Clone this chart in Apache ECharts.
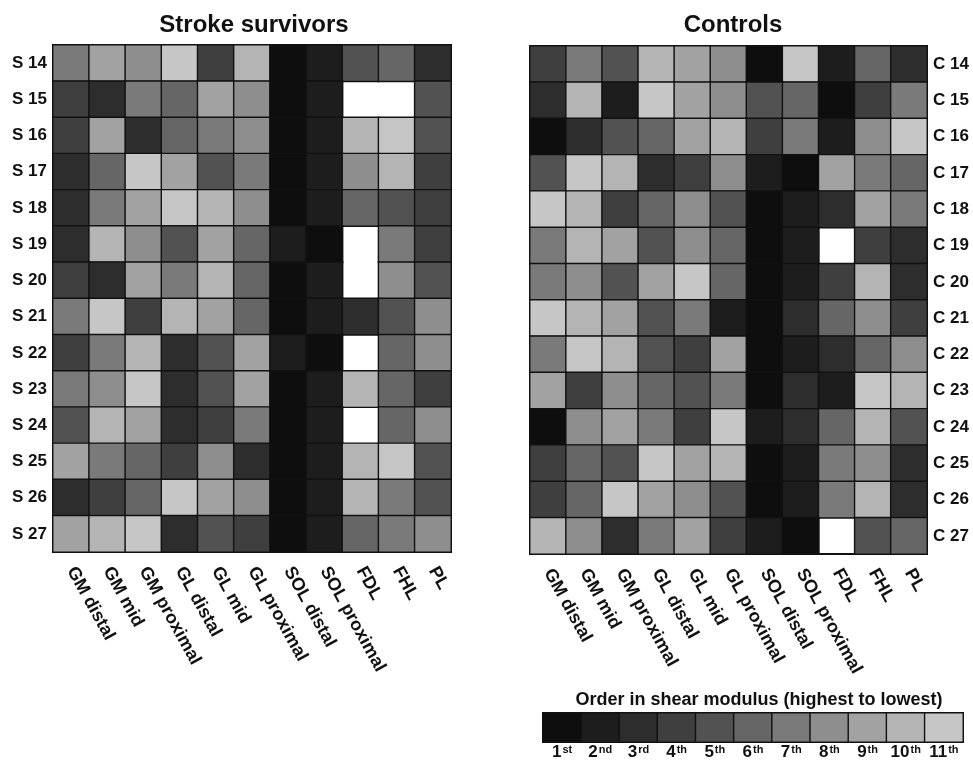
<!DOCTYPE html>
<html>
<head>
<meta charset="utf-8">
<script src="https://cdn.jsdelivr.net/npm/echarts@6/dist/echarts.min.js"></script>
<style>
html,body{margin:0;padding:0;background:#fff;}
#chart{width:973px;height:761px;}
</style>
</head>
<body>
<div id="chart"></div>
<script>
// ---- data ----
const muscles = ['GM distal','GM mid','GM proximal','GL distal','GL mid','GL proximal','SOL distal','SOL proximal','FDL','FHL','PL'];
const strokeIds = ['S 14','S 15','S 16','S 17','S 18','S 19','S 20','S 21','S 22','S 23','S 24','S 25','S 26','S 27'];
const controlIds = ['C 14','C 15','C 16','C 17','C 18','C 19','C 20','C 21','C 22','C 23','C 24','C 25','C 26','C 27'];
// rank of each muscle (1 = highest shear modulus); null = not measured (white)
const strokeRanks = [
  [7, 9, 8, 11, 4, 10, 1, 2, 5, 6, 3],
  [4, 3, 7, 6, 9, 8, 1, 2, null, null, 5],
  [4, 9, 3, 6, 7, 8, 1, 2, 10, 11, 5],
  [3, 6, 11, 9, 5, 7, 1, 2, 8, 10, 4],
  [3, 7, 9, 11, 10, 8, 1, 2, 6, 5, 4],
  [3, 10, 8, 5, 9, 6, 2, 1, null, 7, 4],
  [4, 3, 9, 7, 10, 6, 1, 2, null, 8, 5],
  [7, 11, 4, 10, 9, 6, 1, 2, 3, 5, 8],
  [4, 7, 10, 3, 5, 9, 2, 1, null, 6, 8],
  [7, 8, 11, 3, 5, 9, 1, 2, 10, 6, 4],
  [5, 10, 9, 3, 4, 7, 1, 2, null, 6, 8],
  [9, 7, 6, 4, 8, 3, 1, 2, 10, 11, 5],
  [3, 4, 6, 11, 9, 8, 1, 2, 10, 7, 5],
  [9, 10, 11, 3, 5, 4, 1, 2, 6, 7, 8]
];
const controlRanks = [
  [4, 7, 5, 10, 9, 8, 1, 11, 2, 6, 3],
  [3, 10, 2, 11, 9, 8, 5, 6, 1, 4, 7],
  [1, 3, 5, 6, 9, 10, 4, 7, 2, 8, 11],
  [5, 11, 10, 3, 4, 8, 2, 1, 9, 7, 6],
  [11, 10, 4, 6, 8, 5, 1, 2, 3, 9, 7],
  [7, 10, 9, 5, 8, 6, 1, 2, null, 4, 3],
  [7, 8, 5, 9, 11, 6, 1, 2, 4, 10, 3],
  [11, 10, 9, 5, 7, 2, 1, 3, 6, 8, 4],
  [7, 11, 10, 5, 4, 9, 1, 2, 3, 6, 8],
  [9, 4, 8, 6, 5, 7, 1, 3, 2, 11, 10],
  [1, 8, 9, 7, 4, 11, 2, 3, 6, 10, 5],
  [4, 6, 5, 11, 9, 10, 1, 2, 7, 8, 3],
  [4, 6, 11, 9, 8, 5, 1, 2, 7, 10, 3],
  [10, 8, 3, 7, 9, 4, 2, 1, null, 5, 6]
];
const rankValues = [1,2,3,4,5,6,7,8,9,10,11];
const rankNums = ['1','2','3','4','5','6','7','8','9','10','11'];
const rankSuffixes = ['st','nd','rd','th','th','th','th','th','th','th','th'];
const rankGrays = ['#0e0e0e','#1d1d1d','#2d2d2d','#3f3f3f','#525252','#666666','#7a7a7a','#8e8e8e','#a2a2a2','#b4b4b4','#c6c6c6'];

// ---- build ----
function toCells(ranks){
  const out = [];
  ranks.forEach((row, r) => row.forEach((v, c) => out.push([c, r, v == null ? '-' : v])));
  return out;
}
const FONT = 'Liberation Sans';
const dark = '#111';
const cellStyle = {borderColor: dark, borderWidth: 1.4};

const chart = echarts.init(document.getElementById('chart'), null, {renderer: 'canvas'});
chart.setOption({
  backgroundColor: '#fff',
  animation: false,
  textStyle: {fontFamily: FONT},
  title: [
    {text: 'Stroke survivors', left: 249, top: 8, textAlign: 'center',
     textStyle: {fontFamily: FONT, fontSize: 24, fontWeight: 'bold', color: dark}},
    {text: 'Controls', left: 728, top: 8, textAlign: 'center',
     textStyle: {fontFamily: FONT, fontSize: 24, fontWeight: 'bold', color: dark}},
    {text: 'Order in shear modulus (highest to lowest)', left: 754, top: 686, textAlign: 'center',
     textStyle: {fontFamily: FONT, fontSize: 18, fontWeight: 'bold', color: dark}}
  ],
  grid: [
    {left: 53, top: 45, width: 398, height: 507, show: true, backgroundColor: '#fff', borderColor: dark, borderWidth: 2},
    {left: 530, top: 46, width: 397, height: 508, show: true, backgroundColor: '#fff', borderColor: dark, borderWidth: 2},
    {left: 543, top: 713, width: 420, height: 30, show: true, backgroundColor: '#fff', borderColor: dark, borderWidth: 2}
  ],
  visualMap: {
    type: 'piecewise', show: false, seriesIndex: [0, 1, 2], dimension: 2,
    pieces: rankValues.map((v, i) => ({value: v, color: rankGrays[i]}))
  },
  xAxis: [0, 1].map(g => ({
    type: 'category', gridIndex: g, data: muscles, position: 'bottom',
    axisLine: {show: false}, axisTick: {show: false}, splitLine: {show: false},
    axisLabel: {interval: 0, rotate: -61, margin: 16, fontFamily: FONT, fontSize: 18, fontWeight: 'bold', color: dark}
  })).concat([{
    type: 'category', gridIndex: 2, data: rankNums,
    axisLine: {show: false}, axisTick: {show: false}, splitLine: {show: false},
    axisLabel: {
      interval: 0, margin: 2, color: dark,
      formatter: (v, i) => '{n|' + v + '}{s|' + rankSuffixes[i] + '}',
      rich: {
        n: {fontFamily: FONT, fontSize: 17, fontWeight: 'bold', color: dark, lineHeight: 17},
        s: {fontFamily: FONT, fontSize: 11, fontWeight: 'bold', color: dark, verticalAlign: 'top', padding: [0, 0, 6, 1]}
      }
    }
  }]),
  yAxis: [
    {type: 'category', gridIndex: 0, data: strokeIds, inverse: true, position: 'left',
     axisLine: {show: false}, axisTick: {show: false}, splitLine: {show: false},
     axisLabel: {margin: 6, fontFamily: FONT, fontSize: 17, fontWeight: 'bold', color: dark}},
    {type: 'category', gridIndex: 1, data: controlIds, inverse: true, position: 'right',
     axisLine: {show: false}, axisTick: {show: false}, splitLine: {show: false},
     axisLabel: {margin: 6, fontFamily: FONT, fontSize: 17, fontWeight: 'bold', color: dark}},
    {type: 'category', gridIndex: 2, data: ['order'], show: false}
  ],
  series: [
    {type: 'heatmap', xAxisIndex: 0, yAxisIndex: 0, data: toCells(strokeRanks), itemStyle: cellStyle, emphasis: {disabled: true}},
    {type: 'heatmap', xAxisIndex: 1, yAxisIndex: 1, data: toCells(controlRanks), itemStyle: cellStyle, emphasis: {disabled: true}},
    {type: 'heatmap', xAxisIndex: 2, yAxisIndex: 2, data: rankValues.map((v, i) => [i, 0, v]), itemStyle: cellStyle, emphasis: {disabled: true}}
  ]
});
</script>
</body>
</html>
